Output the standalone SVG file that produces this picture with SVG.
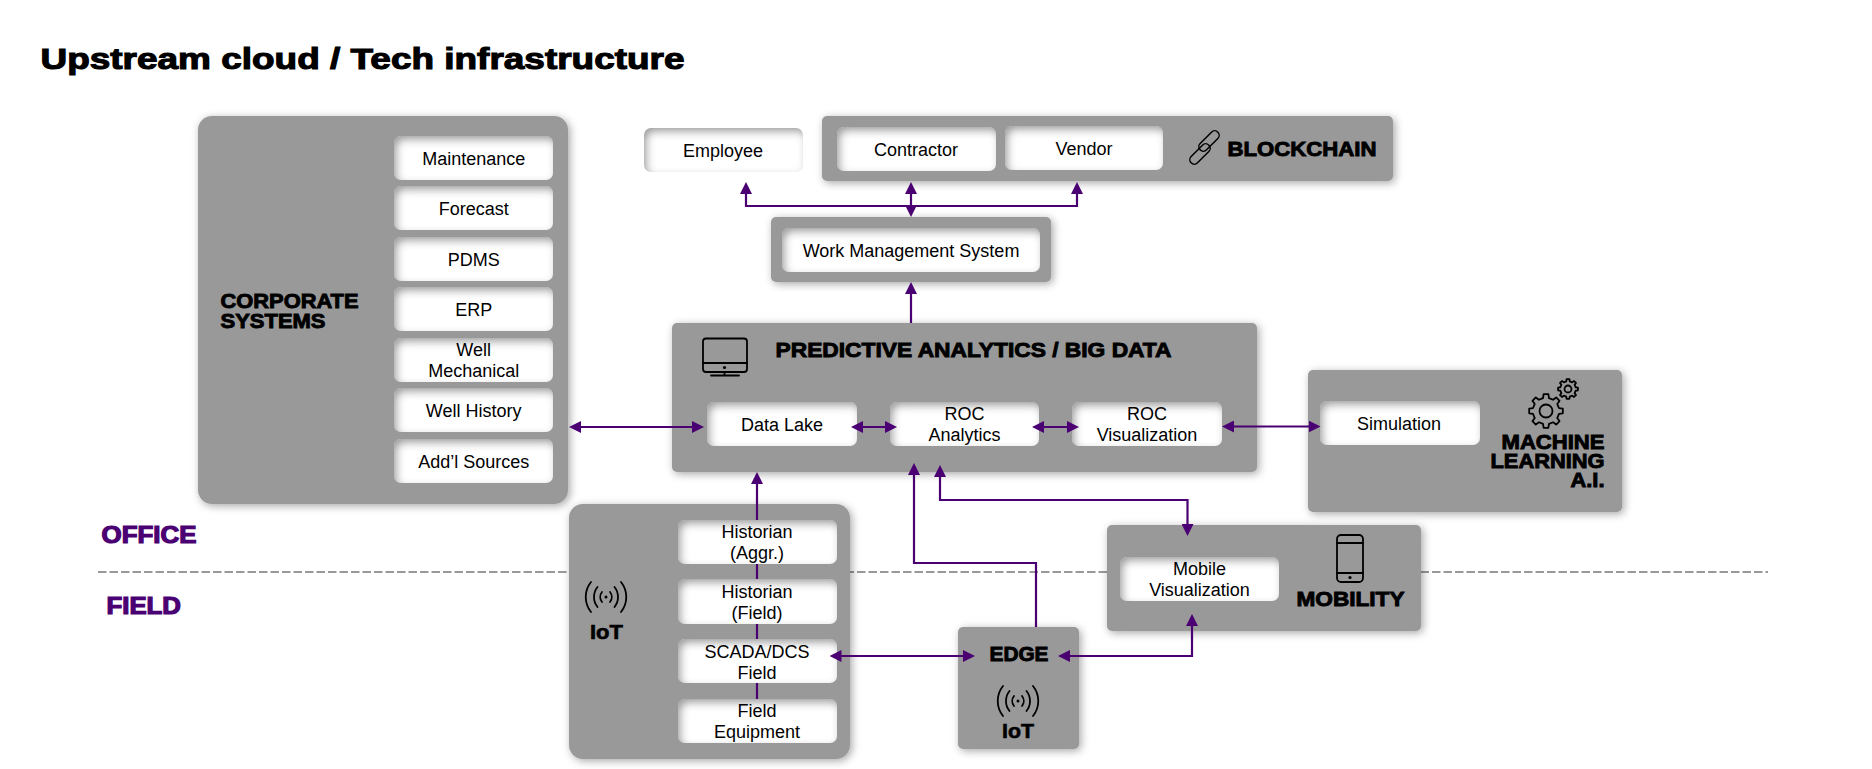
<svg xmlns="http://www.w3.org/2000/svg" xmlns:xlink="http://www.w3.org/1999/xlink" width="1872" height="769" viewBox="0 0 1872 769">
<style>
text{font-family:"Liberation Sans",Arial,sans-serif;fill:#000}
.t{font-size:18px;text-anchor:middle}
.h{font-size:20px;font-weight:bold;stroke:#000;stroke-width:.9px}
.n{font-size:20px;font-weight:bold;stroke:#000;stroke-width:.6px}
.z{font-size:23px;font-weight:bold;fill:#4a0072;stroke:#4a0072;stroke-width:1.2px}
.p{fill:#999;filter:url(#ds)}
.b{fill:#fff;filter:url(#inset)}
.c{fill:none;stroke:#4a0072;stroke-width:2.2;marker-end:url(#ah)}
.cc{fill:none;stroke:#4a0072;stroke-width:2.2;marker-start:url(#ah);marker-end:url(#ah)}
.l{fill:none;stroke:#4a0072;stroke-width:2.2}
.i{fill:none;stroke:#000;stroke-width:1.8;stroke-linecap:round;stroke-linejoin:round}
.k{fill:none;stroke:#000;stroke-width:1.5}
.d{fill:#000;stroke:none}
</style>
<defs>
<filter id="ds" x="-10%" y="-15%" width="120%" height="130%"><feDropShadow dx="2" dy="2" stdDeviation="4.5" flood-color="#000" flood-opacity=".35"/></filter>
<filter id="inset" x="-20%" y="-40%" width="140%" height="180%">
<feFlood flood-color="#000" flood-opacity=".68" result="f"/>
<feComposite in="f" in2="SourceAlpha" operator="out" result="inv"/>
<feOffset in="inv" dx="2.500" dy="3.500"/>
<feGaussianBlur stdDeviation="4" result="bl"/>
<feComposite in="bl" in2="SourceAlpha" operator="in" result="sh"/>
<feMerge><feMergeNode in="SourceGraphic"/><feMergeNode in="sh"/></feMerge>
</filter>
<marker id="ah" markerUnits="userSpaceOnUse" markerWidth="12" markerHeight="12" viewBox="0 0 12 12" refX="6" refY="6" orient="auto-start-reverse"><path d="M0 0L12 6L0 12Z" fill="#4a0072"/></marker>
<g id="waves" class="i">
<path d="M-15 -15A24 24 0 0 0 -15 15M-8.500 -10A16 16 0 0 0 -8.500 10M-4 -5A8 8 0 0 0 -4 5M15 -15A24 24 0 0 1 15 15M8.500 -10A16 16 0 0 1 8.500 10M4 -5A8 8 0 0 1 4 5"/>
<circle cx="0" cy="0" r="1.5" class="d"/>
</g>
<path id="gear" vector-effect="non-scaling-stroke" d="M-17.5-76L-13.9-99L13.9-99L17.5-76L41.4-66.1L60.2-79.8L79.8-60.2L66.1-41.4L76-17.5L99-13.9L99 13.9L76 17.5L66.1 41.4L79.8 60.2L60.2 79.8L41.4 66.1L17.5 76L13.9 99L-13.9 99L-17.5 76L-41.4 66.1L-60.2 79.8L-79.8 60.2L-66.1 41.4L-76 17.5L-99 13.9L-99-13.9L-76-17.5L-66.1-41.4L-79.8-60.2L-60.2-79.8L-41.4-66.1Z"/>
</defs>
<rect width="1872" height="769" fill="#fff"/>
<text id="title" x="40.500" y="69" font-size="30" font-weight="bold" textLength="644" lengthAdjust="spacingAndGlyphs" stroke="#000" stroke-width="1.1">Upstream cloud / Tech infrastructure</text>
<line id="divider" x1="98" y1="572" x2="1768" y2="572" stroke="#999" stroke-width="2" stroke-dasharray="8.500 3"/>
<g id="zone-labels">
<text class="z" x="101.500" y="543" textLength="95" lengthAdjust="spacingAndGlyphs">OFFICE</text>
<text class="z" x="106.500" y="614" textLength="74.500" lengthAdjust="spacingAndGlyphs">FIELD</text>
</g>
<g id="corporate-systems">
<rect class="p" x="198" y="116" width="370" height="388" rx="14"/>
<text class="h" x="220.500" y="307.700" textLength="138" lengthAdjust="spacingAndGlyphs">CORPORATE</text>
<text class="h" x="220.500" y="327.700" textLength="105" lengthAdjust="spacingAndGlyphs">SYSTEMS</text>
<rect class="b" x="394" y="136" width="159" height="44" rx="7"/><text class="t" x="473.700" y="165">Maintenance</text>
<rect class="b" x="394" y="186" width="159" height="44" rx="7"/><text class="t" x="473.700" y="215">Forecast</text>
<rect class="b" x="394" y="237" width="159" height="44" rx="7"/><text class="t" x="473.700" y="266">PDMS</text>
<rect class="b" x="394" y="287" width="159" height="44" rx="7"/><text class="t" x="473.700" y="316">ERP</text>
<rect class="b" x="394" y="338" width="159" height="44" rx="7"/><text class="t" x="473.700" y="356">Well</text><text class="t" x="473.700" y="377">Mechanical</text>
<rect class="b" x="394" y="388" width="159" height="44" rx="7"/><text class="t" x="473.700" y="416.700">Well History</text>
<rect class="b" x="394" y="439" width="159" height="44" rx="7"/><text class="t" x="473.700" y="467.700">Add’l Sources</text>
</g>
<g id="employee"><rect class="b" x="644" y="128" width="159" height="44" rx="7"/><text class="t" x="723" y="157">Employee</text></g>
<g id="blockchain">
<rect class="p" x="822" y="116" width="571" height="65" rx="5"/>
<rect class="b" x="837" y="127" width="159" height="44" rx="7"/><text class="t" x="916" y="156">Contractor</text>
<rect class="b" x="1005" y="126" width="158" height="44" rx="7"/><text class="t" x="1084" y="155">Vendor</text>
<g class="k"><rect x="-12.500" y="-4.500" width="25" height="9" rx="4.500" transform="translate(1209 141) rotate(-45)"/><rect x="-12.500" y="-4.500" width="25" height="9" rx="4.500" transform="translate(1200 154) rotate(-45)"/></g>
<text class="h" x="1227.500" y="156" textLength="149" lengthAdjust="spacingAndGlyphs">BLOCKCHAIN</text>
</g>
<g id="work-management">
<rect class="p" x="771" y="217" width="280" height="65" rx="5"/>
<rect class="b" x="782" y="228" width="258" height="44" rx="7"/><text class="t" x="911" y="257">Work Management System</text>
</g>
<g id="predictive-analytics">
<rect class="p" x="672" y="323" width="585" height="149" rx="5"/>
<g class="i"><rect x="703" y="338.500" width="44" height="33.500" rx="3"/><path d="M703 363H747M724.500 372V375.500M711 375.500H739"/><circle class="d" cx="724.500" cy="367.500" r="1.600"/></g>
<text class="h" x="775.500" y="357" textLength="396" lengthAdjust="spacingAndGlyphs">PREDICTIVE ANALYTICS / BIG DATA</text>
<rect class="b" x="707" y="402" width="150" height="44" rx="7"/><text class="t" x="782" y="431">Data Lake</text>
<rect class="b" x="890" y="402" width="149" height="44" rx="7"/><text class="t" x="964.500" y="420">ROC</text><text class="t" x="964.500" y="441">Analytics</text>
<rect class="b" x="1072" y="402" width="150" height="44" rx="7"/><text class="t" x="1147" y="420">ROC</text><text class="t" x="1147" y="441">Visualization</text>
</g>
<g id="machine-learning">
<rect class="p" x="1308" y="370" width="314" height="142" rx="5"/>
<rect class="b" x="1320" y="401" width="160" height="44" rx="7"/><text class="t" x="1399" y="430">Simulation</text>
<g class="i"><use xlink:href="#gear" href="#gear" transform="translate(1546 411) scale(.17)"/><circle cx="1546" cy="411" r="6.500"/><use xlink:href="#gear" href="#gear" transform="translate(1568 389) scale(.1)"/><circle cx="1568" cy="389" r="3.500"/></g>
<text class="h" x="1501.500" y="448.700" textLength="103" lengthAdjust="spacingAndGlyphs">MACHINE</text>
<text class="h" x="1490.500" y="467.700" textLength="114" lengthAdjust="spacingAndGlyphs">LEARNING</text>
<text class="h" x="1570.500" y="486.700" textLength="34" lengthAdjust="spacingAndGlyphs">A.I.</text>
</g>
<g id="mobility">
<rect class="p" x="1107" y="525" width="314" height="106" rx="5"/>
<rect class="b" x="1120" y="557" width="159" height="44" rx="7"/><text class="t" x="1199.500" y="575">Mobile</text><text class="t" x="1199.500" y="596">Visualization</text>
<g class="i"><rect x="1337" y="535" width="26" height="47" rx="4"/><path d="M1337 543H1363M1337 573H1363"/><circle class="d" cx="1350" cy="577.500" r="1.600"/></g>
<text class="h" x="1296.500" y="606" textLength="108" lengthAdjust="spacingAndGlyphs">MOBILITY</text>
</g>
<g id="iot">
<rect class="p" x="569" y="504" width="281" height="255" rx="14"/>
<use xlink:href="#waves" href="#waves" x="606" y="597"/>
<text class="n" x="590" y="639" textLength="33" lengthAdjust="spacingAndGlyphs">IoT</text>
<rect class="b" x="678" y="520" width="159" height="44" rx="7"/><text class="t" x="757" y="538">Historian</text><text class="t" x="757" y="559">(Aggr.)</text>
<rect class="b" x="678" y="579" width="159" height="45" rx="7"/><text class="t" x="757" y="598">Historian</text><text class="t" x="757" y="619">(Field)</text>
<rect class="b" x="678" y="639" width="159" height="44" rx="7"/><text class="t" x="757" y="658">SCADA/DCS</text><text class="t" x="757" y="679">Field</text>
<rect class="b" x="678" y="699" width="159" height="44" rx="7"/><text class="t" x="757" y="717">Field</text><text class="t" x="757" y="738">Equipment</text>
</g>
<g id="edge">
<rect class="p" x="958" y="627" width="121" height="122" rx="5"/>
<text class="h" x="989.500" y="661" textLength="59" lengthAdjust="spacingAndGlyphs">EDGE</text>
<use xlink:href="#waves" href="#waves" x="1018" y="701"/>
<text class="n" x="1002" y="738" textLength="32" lengthAdjust="spacingAndGlyphs">IoT</text>
</g>
<g id="connectors">
<path class="c" d="M911 212V206H746V188"/>
<path class="c" d="M911 206V188"/>
<path class="c" d="M911 206H1077V188"/>
<path class="c" d="M911 206V211"/>
<path class="c" d="M911 323V288"/>
<path class="cc" d="M575 427H698"/>
<path class="cc" d="M857 427H891"/>
<path class="cc" d="M1038 427H1073"/>
<path class="cc" d="M1228 426.500H1314.500"/>
<path class="c" d="M757 520V478"/>
<path class="l" d="M757 564V579M757 624V639M757 683V699"/>
<path class="cc" d="M835.500 656H969"/>
<path class="c" d="M1036 627V563H914V469"/>
<path class="cc" d="M940 471V500H1187.500V530"/>
<path class="cc" d="M1064 656H1192V620"/>
</g>
</svg>
